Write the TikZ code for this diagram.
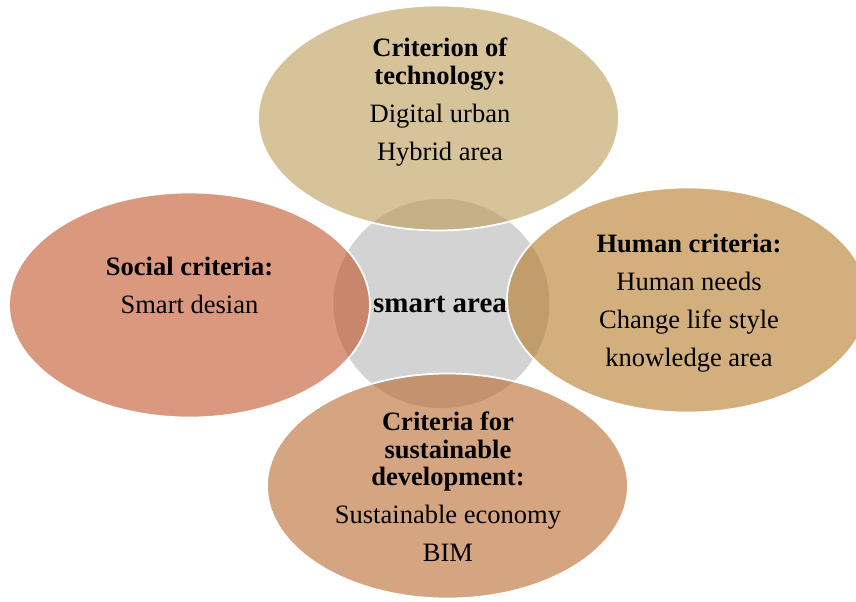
\documentclass[tikz,border=0pt]{standalone}
\usepackage{fontspec}
\setmainfont{Liberation Serif}
\usetikzlibrary{shapes.geometric}
\definecolor{hubgray}{RGB}{211,211,211}
\definecolor{techcol}{RGB}{187,155,85}
\definecolor{socialcol}{RGB}{193,83,42}
\definecolor{humancol}{RGB}{183,122,40}
\definecolor{sustcol}{RGB}{183,105,43}

\begin{document}
\begin{tikzpicture}[x=0.75pt, y=-0.75pt,
    bubble/.style={ellipse, inner sep=0pt, minimum width=270.75pt, minimum height=168.75pt,
        draw=white, line width=1.3pt, fill opacity=0.6},
    words/.style={align=center, inner sep=0pt, anchor=north,
        font=\fontsize{19.9}{20.6}\selectfont}]
\useasboundingbox (0,0) rectangle (856,601);
% grey hub, under the four bubbles
\node[ellipse, fill=hubgray, inner sep=0pt, minimum width=162pt, minimum height=157pt] (0) at (441.5,303.5) {};
\node[bubble, fill=techcol] (1) at (438.5,118) {};
\node[bubble, fill=socialcol] (2) at (189.5,305) {};
\node[bubble, fill=humancol] (3) at (687.5,300) {};
\node[bubble, fill=sustcol] (4) at (447.5,486) {};
% texts
\node[anchor=base, inner sep=0pt, font=\fontsize{21.7}{23}\selectfont\bfseries] (5) at (440,312) {smart area};
\node[words] (6) at (440,37.7) {\textbf{Criterion of}\\\textbf{technology:}\\[8.4pt] Digital urban\\[8pt] Hybrid area};
\node[words] (7) at (189.5,256.7) {\textbf{Social criteria:}\\[8pt] Smart desian};
\node[words] (8) at (689,233.7) {\textbf{Human criteria:}\\[8pt] Human needs\\[8pt] Change life style\\[8pt] knowledge area};
\node[words] (9) at (448,411.7) {\textbf{Criteria for}\\\textbf{sustainable}\\\textbf{development:}\\[8pt] Sustainable economy\\[8pt] BIM};
\end{tikzpicture}
\end{document}
